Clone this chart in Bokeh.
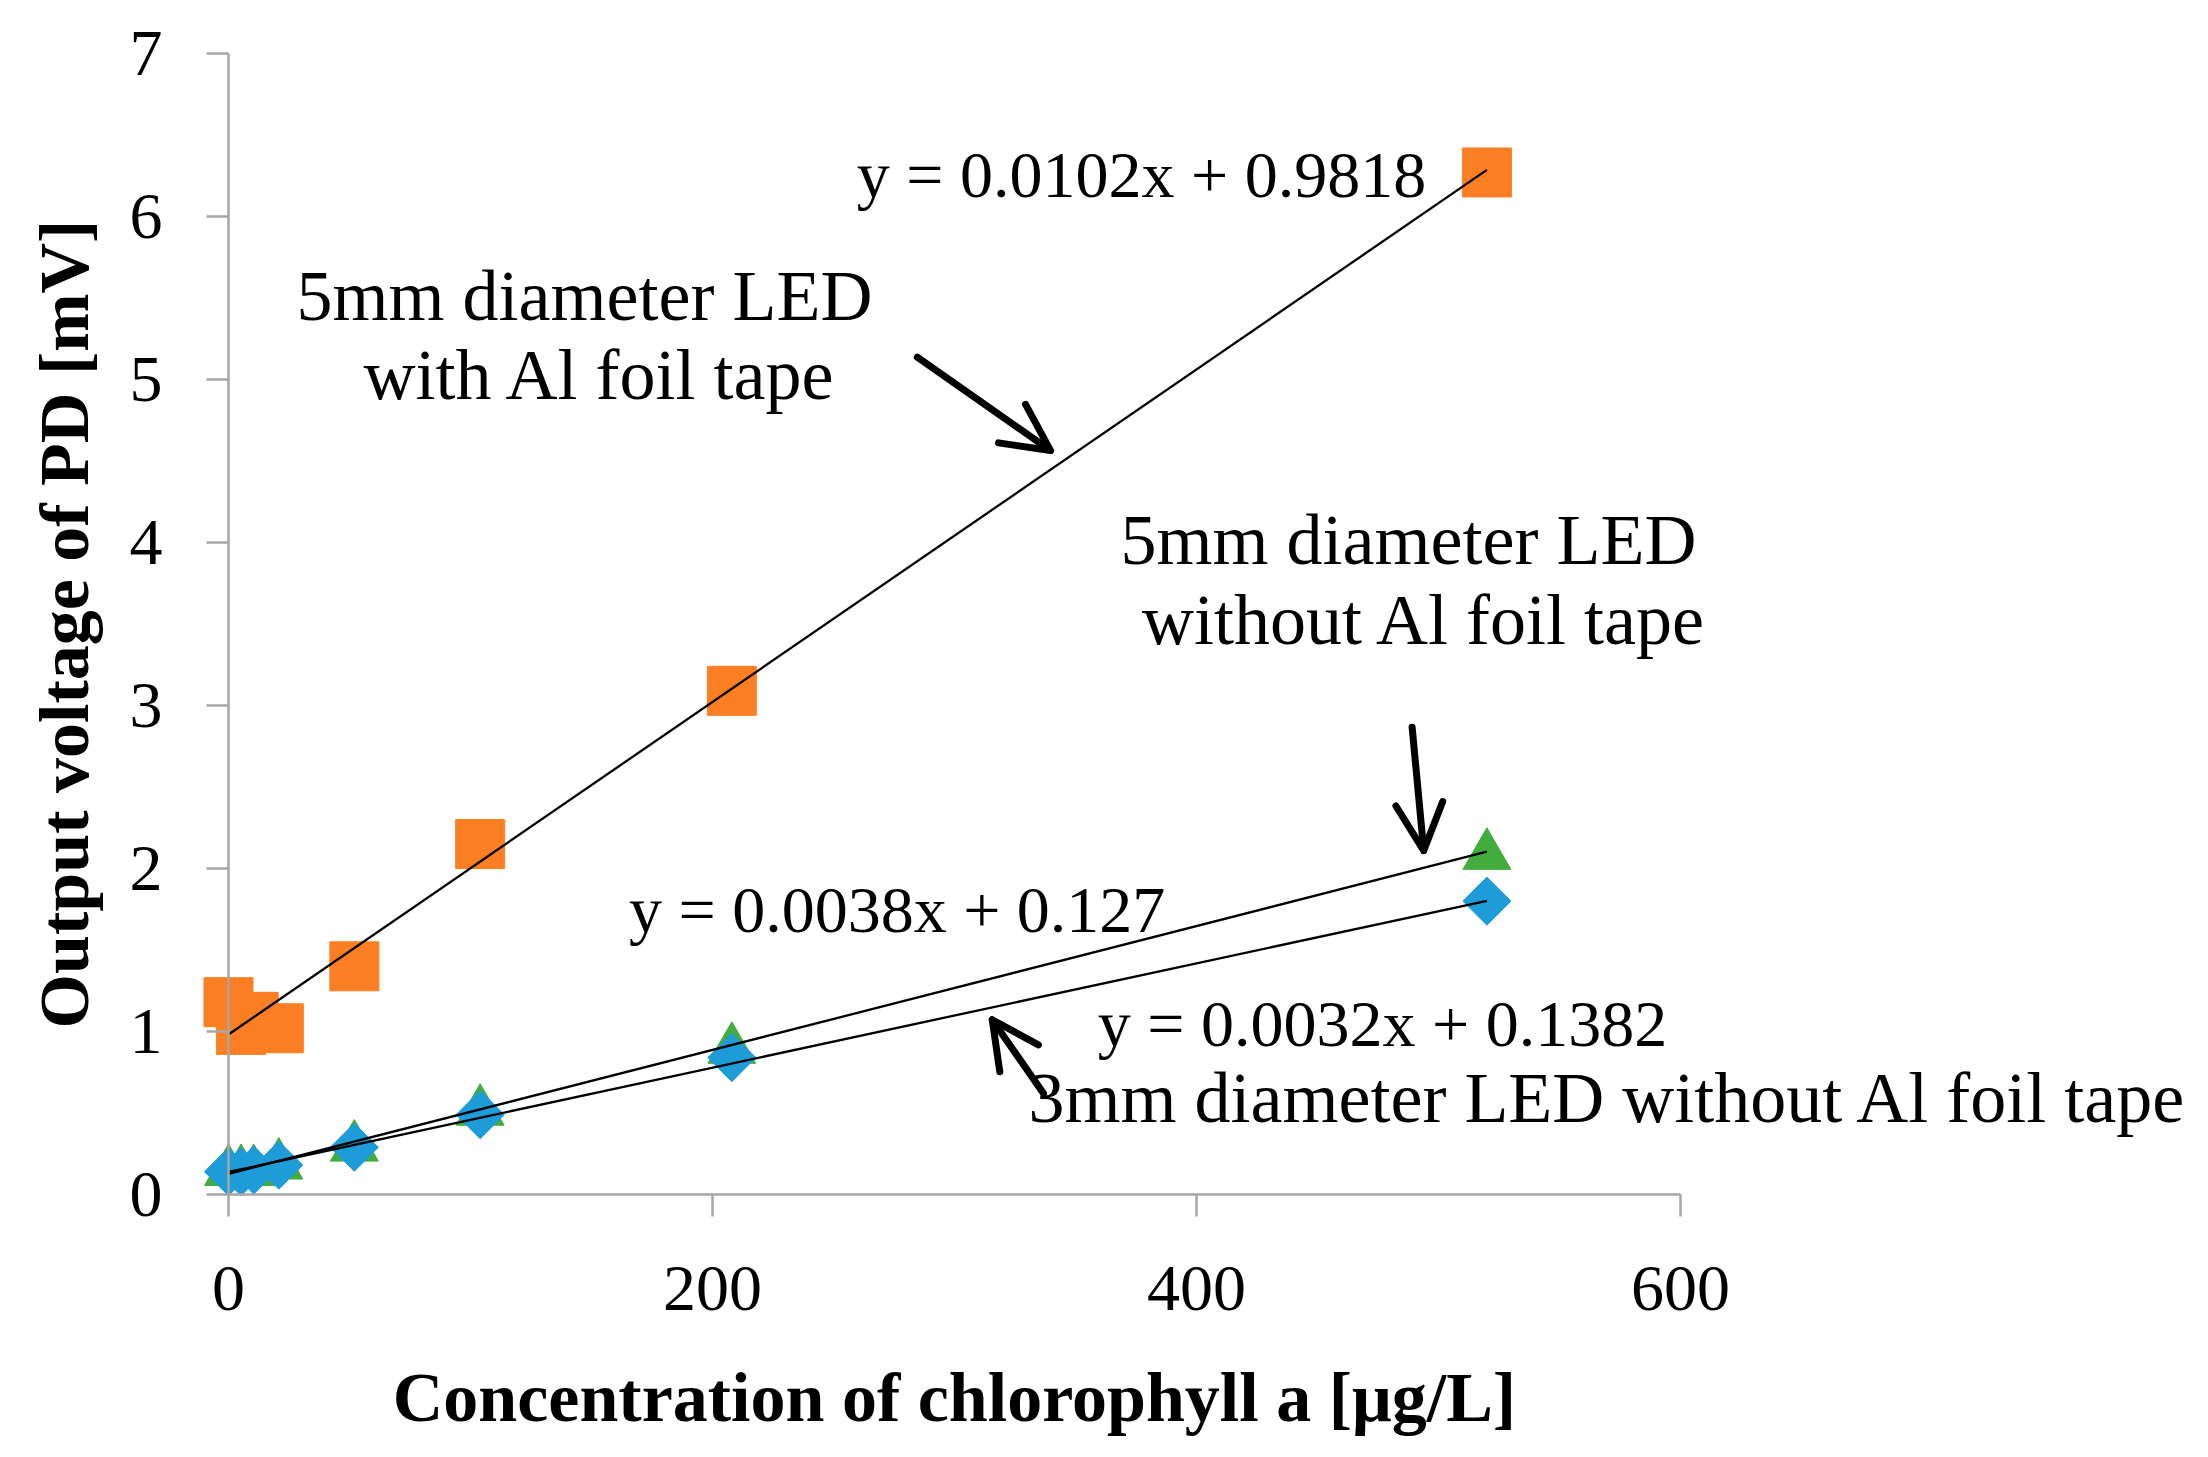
from bokeh.plotting import figure
from bokeh.models import LinearAxis, FixedTicker, Arrow, OpenHead, Range1d, ColumnDataSource
from bokeh.embed import file_html
from bokeh.resources import INLINE
from bokeh.core.properties import value

# ---- data ----
conc = [0, 5.2, 10.4, 20.8, 52, 104, 208, 520]
v_5mm_al = [1.18, 1.01, 1.09, 1.02, 1.40, 2.15, 3.09, 6.27]
v_5mm_noal = [0.14, 0.14, 0.14, 0.18, 0.29, 0.51, 0.89, 2.08]
v_3mm_noal = [0.14, 0.14, 0.15, 0.18, 0.29, 0.49, 0.84, 1.80]

fit_slope = [0.0102, 0.0038, 0.0032]
fit_intercept = [0.9818, 0.127, 0.1382]
fit_span = [0, 520]

x_ticks = [0, 200, 400, 600]
y_ticks = [0, 1, 2, 3, 4, 5, 6, 7]

eq_text = ["y = 0.0102x + 0.9818", "y = 0.0038x + 0.127", "y = 0.0032x + 0.1382"]
eq_x = [377.3, 276.3, 476.9]
eq_y = [6.26, 1.75, 1.05]

note_text = ["5mm diameter LED", "with Al foil tape",
             "5mm diameter LED", "without Al foil tape",
             "3mm diameter LED without Al foil tape"]
note_x = [147.1, 153.7, 487.6, 494.4, 570.2]
note_y = [5.51, 5.025, 4.018, 3.527, 0.59]

arrow_x0 = [284.6, 489.1, 336.8]
arrow_y0 = [5.137, 2.867, 0.620]
arrow_x1 = [339.7, 493.9, 315.6]
arrow_y1 = [4.564, 2.110, 1.072]

ORANGE = "#FD7F23"
GREEN = "#43AC3F"
BLUE = "#1D9CD8"
AXIS = "#A6A6A6"
FONT = "Liberation Serif"

p = figure(width=2192, height=1440, output_backend="svg", toolbar_location=None,
           x_range=Range1d(-94.21, 811.57), y_range=Range1d(-1.509, 7.325),
           x_axis_location=None, y_axis_location=None, min_border=0)
p.outline_line_color = None
for g in p.grid:
    g.visible = False
p.background_fill_color = "white"

xaxis = LinearAxis(fixed_location=0, bounds=(0, 600),
                   ticker=FixedTicker(ticks=x_ticks, minor_ticks=[]),
                   axis_label="Concentration of chlorophyll a [μg/L]")
yaxis = LinearAxis(fixed_location=0, bounds=(0, 7),
                   ticker=FixedTicker(ticks=y_ticks, minor_ticks=[]),
                   axis_label="Output voltage of PD [mV]")
for ax in (xaxis, yaxis):
    ax.axis_line_color = AXIS
    ax.axis_line_width = 2.5
    ax.major_tick_line_color = AXIS
    ax.major_tick_line_width = 2.5
    ax.major_tick_out = 22
    ax.major_tick_in = 0
    ax.minor_tick_out = 0
    ax.minor_tick_in = 0
    ax.major_label_text_font = FONT
    ax.major_label_text_font_size = "66px"
    ax.major_label_text_color = "black"
    ax.axis_label_text_font = FONT
    ax.axis_label_text_font_style = "bold"
    ax.axis_label_text_font_size = "70px"
    ax.axis_label_text_color = "black"
xaxis.major_label_standoff = 50
xaxis.axis_label_standoff = 46
yaxis.major_label_standoff = 44
yaxis.axis_label_standoff = 24
p.add_layout(xaxis, "below")
p.add_layout(yaxis, "left")

src = ColumnDataSource(dict(x=conc, a=v_5mm_al, b=v_5mm_noal, c=v_3mm_noal))
p.scatter("x", "a", source=src, marker="square", size=49, color=ORANGE)
p.scatter("x", "b", source=src, marker="triangle", size=48, color=GREEN)
p.scatter("x", "c", source=src, marker="square", angle=0.785398, size=34, color=BLUE)

for m, b in zip(fit_slope, fit_intercept):
    p.line(fit_span, [m * fit_span[0] + b, m * fit_span[1] + b], line_color="black", line_width=2.3)

p.text(x=eq_x, y=eq_y, text=eq_text, text_font=value(FONT), text_font_size="66px",
       text_align="center", text_baseline="alphabetic", text_color="black")
p.text(x=note_x, y=note_y, text=note_text, text_font=value(FONT), text_font_size="72px",
       text_align="center", text_baseline="alphabetic", text_color="black")

asrc = ColumnDataSource(dict(x0=arrow_x0, y0=arrow_y0, x1=arrow_x1, y1=arrow_y1))
p.add_layout(Arrow(end=OpenHead(size=47, line_width=7, line_cap="round", line_join="round"),
                   x_start="x0", y_start="y0", x_end="x1", y_end="y1", source=asrc,
                   line_width=7, line_cap="round", line_color="black"))

open("out.html", "w").write(file_html(p, INLINE))
